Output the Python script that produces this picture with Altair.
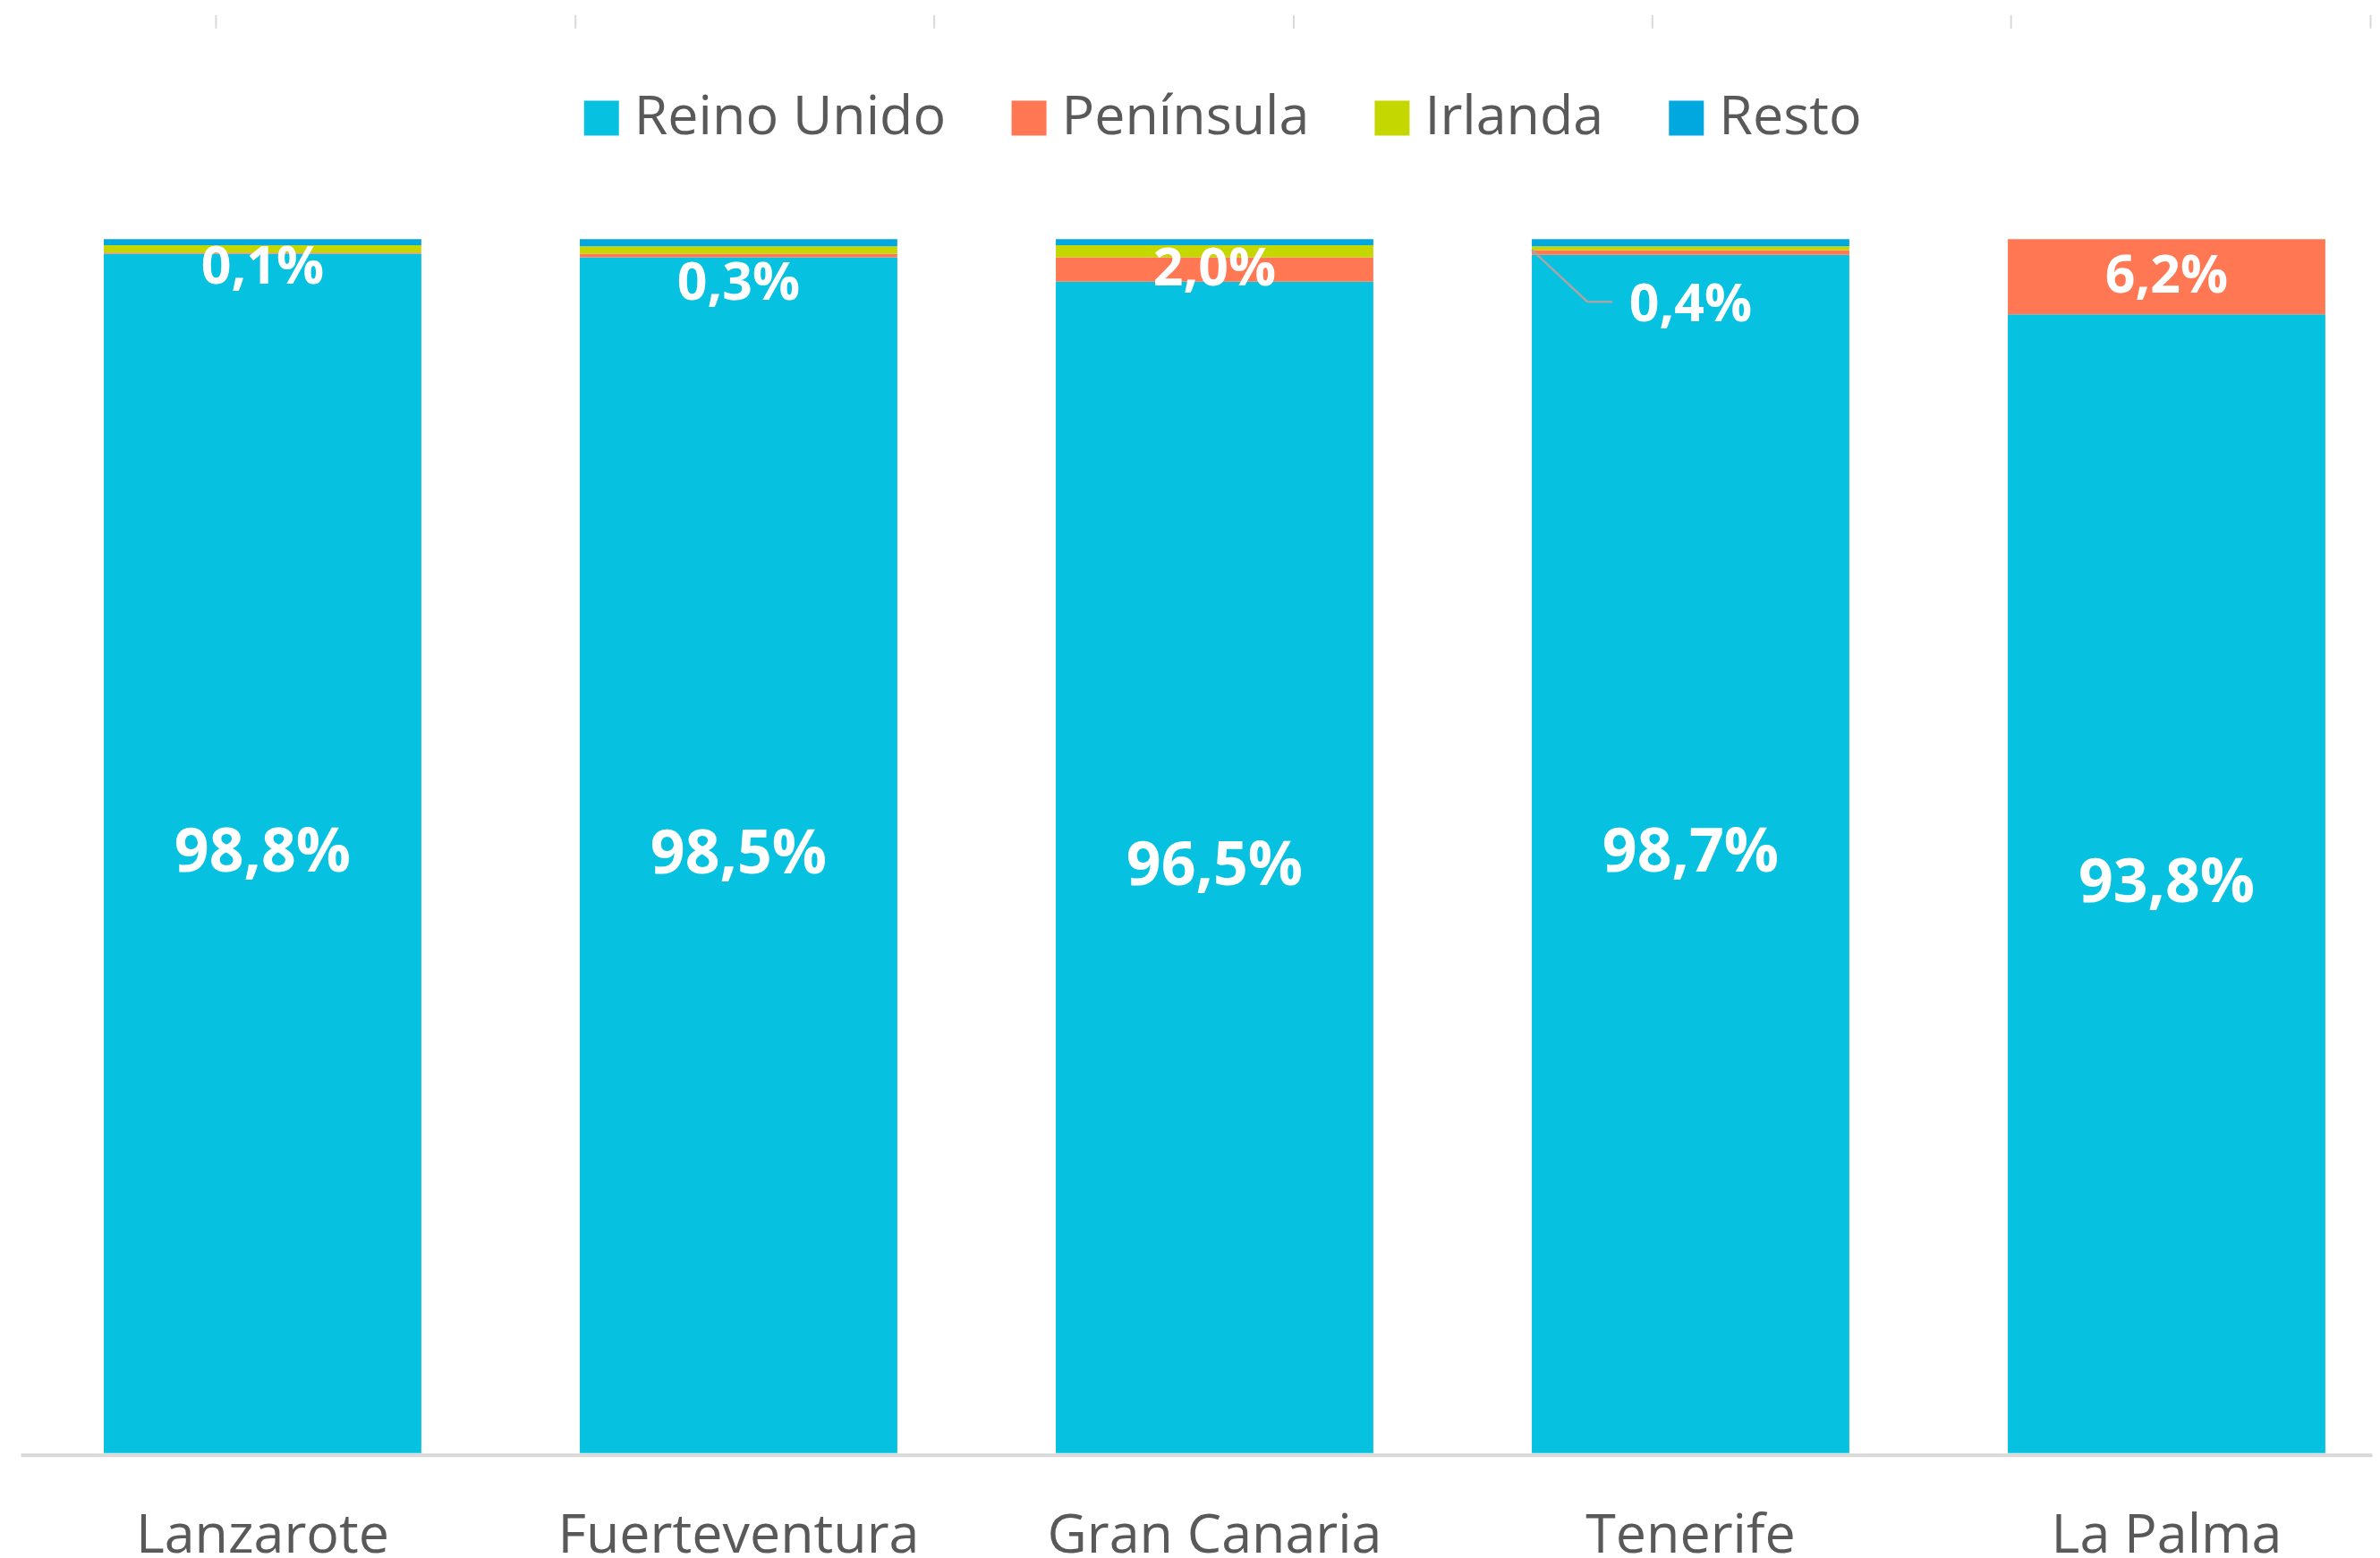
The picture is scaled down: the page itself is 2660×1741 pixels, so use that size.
import altair as alt
import pandas as pd

# ---- data ----
islands = ["Lanzarote", "Fuerteventura", "Gran Canaria", "Tenerife", "La Palma"]
series = ["Reino Unido", "Península", "Irlanda", "Resto"]
reino_unido = [98.8, 98.5, 96.5, 98.7, 93.8]
peninsula = [0.1, 0.3, 2.0, 0.4, 6.2]
irlanda = [0.6, 0.6, 1.0, 0.3, 0.0]
resto = [0.5, 0.6, 0.5, 0.6, 0.0]
colors = ["#06C1DF", "#FF7853", "#C4D800", "#00A8DF"]
top_ticks = [0, 1, 2, 3, 4, 5, 6]

# ---- layout ----
PLOT_W = 2629
PLOT_H = 1357
PX_PER_PCT = PLOT_H / 100.0
FONT = "Open Sans"
GREY_TXT = "#595959"

def fmt(v):
    return f"{v:.1f}".replace(".", ",") + "%"

rows = []
for i, isl in enumerate(islands):
    vals = [reino_unido[i], peninsula[i], irlanda[i], resto[i]]
    for k, s in enumerate(series):
        rows.append({"isla": isl, "serie": s, "valor": vals[k], "orden": k})
df = pd.DataFrame(rows)

# label positions (segment centres), with Excel-style manual nudges for tiny segments
nudge_px = {"Lanzarote": 16, "Fuerteventura": 31, "Tenerife": 59}
lab_rows = []
for i, isl in enumerate(islands):
    ru = reino_unido[i]
    pe = peninsula[i]
    lab_rows.append({"isla": isl, "tipo": "big", "pos": ru / 2, "txt": fmt(ru)})
    lab_rows.append({"isla": isl, "tipo": "small",
                     "pos": ru + pe / 2 - nudge_px.get(isl, 0) / PX_PER_PCT,
                     "txt": fmt(pe)})
labels = pd.DataFrame(lab_rows)

x_enc = alt.X(
    "isla:N",
    sort=islands,
    scale=alt.Scale(paddingInner=0.333, paddingOuter=0.1364, align=0.641),
    axis=alt.Axis(
        title=None, labelAngle=0, ticks=False, tickSize=0, offset=2,
        domainColor="#D9D9D9", domainWidth=4,
        labelFont=FONT, labelFontSize=61, labelColor=GREY_TXT, labelLimit=0,
        labelBaseline="alphabetic", labelPadding=109, grid=False,
    ),
)
y_scale = alt.Scale(domain=[0, 100], nice=False, zero=True)

bars = alt.Chart(df).mark_bar().encode(
    x=x_enc,
    y=alt.Y("valor:Q", stack="zero", scale=y_scale, axis=None),
    color=alt.Color(
        "serie:N",
        scale=alt.Scale(domain=series, range=colors),
        legend=alt.Legend(
            title=None, orient="none", legendX=619, legendY=-166,
            direction="horizontal", symbolType="square", symbolSize=1521,
            symbolStrokeWidth=0, labelFont=FONT, labelFontSize=61, labelLimit=0,
            labelColor=GREY_TXT, labelOffset=6, columnPadding=62, padding=0,
        ),
    ),
    order=alt.Order("orden:Q", sort="ascending"),
)

big = alt.Chart(labels).transform_filter(alt.datum.tipo == "big").mark_text(
    font=FONT, fontSize=68, fontWeight="bold", color="white", baseline="middle"
).encode(x=alt.X("isla:N", sort=islands), y=alt.Y("pos:Q", scale=y_scale), text="txt:N")

small = alt.Chart(labels).transform_filter(alt.datum.tipo == "small").mark_text(
    font=FONT, fontSize=59, fontWeight="bold", color="white", baseline="middle"
).encode(x=alt.X("isla:N", sort=islands), y=alt.Y("pos:Q", scale=y_scale), text="txt:N")

# leader line for Tenerife's Península label
leader_df = pd.DataFrame({"isla": ["Tenerife"], "y_a": [99.12], "y_b": [94.84]})
leader1 = alt.Chart(leader_df).mark_rule(color="#A6A6A6", strokeWidth=2.5).encode(
    x=alt.X("isla:N", sort=islands, bandPosition=0),
    x2=alt.X2("isla:N", bandPosition=0.175),
    y=alt.Y("y_a:Q", scale=y_scale),
    y2="y_b:Q",
)
leader2 = alt.Chart(leader_df).mark_rule(color="#A6A6A6", strokeWidth=2.5).encode(
    x=alt.X("isla:N", sort=islands, bandPosition=0.175),
    x2=alt.X2("isla:N", bandPosition=0.254),
    y=alt.Y("y_b:Q", scale=y_scale),
)

base = alt.layer(bars, big, small, leader1, leader2)

ticks_layer = alt.Chart(pd.DataFrame({"t": top_ticks})).mark_point(opacity=0).encode(
    x=alt.X(
        "t:Q",
        scale=alt.Scale(domain=[-0.543, 6.005], nice=False, zero=False),
        axis=alt.Axis(
            orient="top", title=None, labels=False, domain=False, grid=False,
            values=top_ticks, tickColor="#D9D9D9", tickWidth=2, tickSize=15,
            offset=236,
        ),
    ),
    y=alt.value(0),
)

chart = alt.layer(base, ticks_layer).resolve_scale(x="independent").resolve_axis(
    x="independent"
).properties(
    width=PLOT_W, height=PLOT_H,
    padding={"left": 15, "top": 7, "right": 0, "bottom": 0},
    background="white",
).configure_view(stroke=None)

chart.save("out.html", embed_options={"renderer": "svg", "actions": False})
